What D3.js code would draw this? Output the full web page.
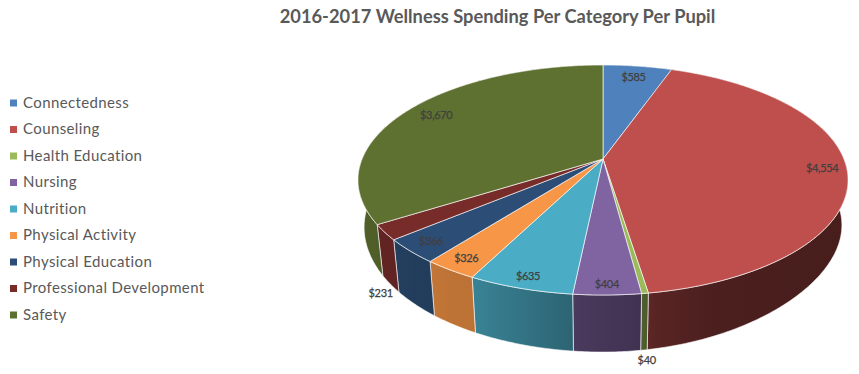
<!DOCTYPE html>
<html>
<head>
<meta charset="utf-8">
<script src="https://cdn.jsdelivr.net/npm/d3@7"></script>
<style>
    body { margin: 0; background: #fff; }
    svg { display: block; }
    text { font-family: Lato, "Open Sans", sans-serif; }
</style>
</head>
<body>
<svg id="chart" width="859" height="374"></svg>
<script>
const title = "2016-2017 Wellness Spending Per Category Per Pupil";
const categories = ["Connectedness", "Counseling", "Health Education", "Nursing", "Nutrition",
    "Physical Activity", "Physical Education", "Professional Development", "Safety"];
const spending = [585, 4554, 40, 404, 635, 326, 366, 231, 3670];
const colors = ["#4F81BD", "#BE4F4C", "#9BBB59", "#8064A2", "#4BACC6", "#F79646", "#2C4D75", "#772C2A", "#5F7130"];

// where each label sits: fraction of the radius, on the wall or on the top face
const labelRadius = [0.864, 0.9, 1.054, 0.934, 0.92, 0.909, 0.905, 1.04, 0.85];
const labelOnWall = [false, false, true, false, false, false, false, true, false];
const labelNudge = [0, 0, 0, 0, 0, 0, 0, 6, -1];

const width = 859, height = 374;
const cx = 603, apexY = 159;
const tilt = -0.1826, radiusX = 240.9, radiusY = 82.13;
const wallScaleX = 0.975, wallScaleY = 1.0857, wallShift = 31.8, wallLift = 12;

const svg = d3.select("#chart");
const defs = svg.append("defs");

// perspective view of the disc, angle 0 at 12 o'clock going clockwise
function topPoint(angle, r = 1) {
    let u = Math.sin(angle) * r, v = -Math.cos(angle) * r;
    let w = 1 + tilt * v;
    return [cx + radiusX * u / w, (apexY + radiusY * v) / w];
}
function wallPoint(angle, r = 1) {
    let p = topPoint(angle, r);
    let u = Math.sin(angle), v = -Math.cos(angle);
    // the lower rim rides a little higher on the right hand side
    let lift = u > 0 && v > 0 ? wallLift * u * u * v : 0;
    return [cx + (p[0] - cx) * wallScaleX, p[1] * wallScaleY + wallShift - lift];
}
function arcAngles(d) {
    let n = Math.max(2, Math.ceil((d.endAngle - d.startAngle) / 0.01));
    return d3.range(n + 1).map(i => d.startAngle + (d.endAngle - d.startAngle) * i / n);
}

const slices = d3.pie().sort(null).value(d => d)(spending);
const line = d3.line();

// walls get darker from left to right
const shade = d3.scaleLinear()
    .domain([358, 431, 472, 573, 641, 660, 720, 848])
    .range([0.85, 0.78, 0.76, 0.58, 0.5, 0.46, 0.39, 0.38]);

slices.forEach((d, i) => {
    let base = d3.rgb(colors[i]);
    let gradient = defs.append("linearGradient")
        .attr("id", `wall-${i}`)
        .attr("gradientUnits", "userSpaceOnUse")
        .attr("x1", 358).attr("x2", 848)
        .attr("y1", 0).attr("y2", 0);
    shade.domain().forEach(x => {
        let k = shade(x);
        gradient.append("stop")
            .attr("offset", `${(x - 358) / (848 - 358) * 100}%`)
            .attr("stop-color", d3.rgb(base.r * k, base.g * k, base.b * k).formatHex());
    });
});

const walls = svg.append("g");
walls.selectAll("path")
    .data(slices)
    .join("path")
    .attr("d", d => {
        let angles = arcAngles(d);
        return line(angles.map(a => topPoint(a)).concat(angles.reverse().map(a => wallPoint(a)))) + "Z";
    })
    .attr("fill", (d, i) => `url(#wall-${i})`)
    .attr("stroke", "#fff")
    .attr("stroke-opacity", 0.75)
    .attr("stroke-width", 0.8);

const faces = svg.append("g");
faces.selectAll("path")
    .data(slices)
    .join("path")
    .attr("d", d => line([[cx, apexY]].concat(arcAngles(d).map(a => topPoint(a)))) + "Z")
    .attr("fill", (d, i) => colors[i])
    .attr("stroke", "#fff")
    .attr("stroke-opacity", 0.8)
    .attr("stroke-width", 0.8);

svg.append("g").selectAll("text")
    .data(slices)
    .join("text")
    .each(function (d, i) {
        let mid = (d.startAngle + d.endAngle) / 2;
        let p = (labelOnWall[i] ? wallPoint : topPoint)(mid, labelRadius[i]);
        d3.select(this).attr("x", p[0]).attr("y", p[1] + labelNudge[i]);
    })
    .attr("text-anchor", "middle")
    .attr("dy", "0.35em")
    .attr("font-size", 11)
    .attr("letter-spacing", -0.35)
    .attr("fill", "#404040")
    .attr("stroke", "#404040")
    .attr("stroke-width", 0.25)
    .text(d => d3.format("$,")(d.value));

svg.append("text")
    .attr("x", 497.5)
    .attr("y", 22.5)
    .attr("text-anchor", "middle")
    .attr("font-size", 18.3)
    .attr("font-weight", "bold")
    .attr("fill", "#595959")
    .text(title);

const legendY = d3.scalePoint().domain(categories).range([103, 315]);
const legend = svg.append("g").selectAll("g")
    .data(categories)
    .join("g")
    .attr("transform", d => `translate(10, ${legendY(d)})`);
legend.append("rect")
    .attr("y", -3.5)
    .attr("width", 7)
    .attr("height", 7)
    .attr("fill", (d, i) => colors[i]);
legend.append("text")
    .attr("x", 13)
    .attr("dy", "0.33em")
    .attr("font-size", 15)
    .attr("letter-spacing", 0.38)
    .attr("fill", "#595959")
    .text(d => d);
</script>
</body>
</html>
